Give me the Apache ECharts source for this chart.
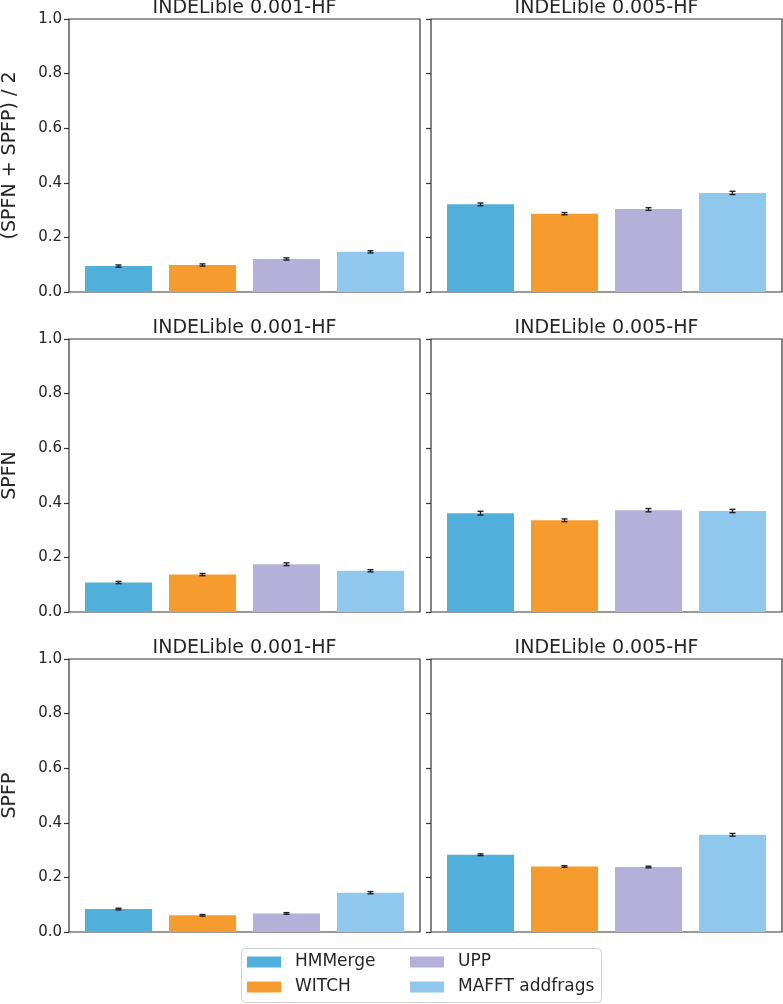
<!DOCTYPE html>
<html>
<head>
<meta charset="utf-8">
<script src="https://cdn.jsdelivr.net/npm/echarts@6/dist/echarts.min.js"></script>
<style>
html,body{margin:0;padding:0;background:#fff;}
#chart{width:783px;height:1004px;}
</style>
</head>
<body>
<div id="chart"></div>
<script>
// ---- data ----
var methods = ['HMMerge', 'WITCH', 'UPP', 'MAFFT addfrags'];
var datasets = ['INDELible 0.001-HF', 'INDELible 0.005-HF'];
var metrics = ['(SPFN + SPFP) / 2', 'SPFN', 'SPFP'];
var yTicks = [0, 0.2, 0.4, 0.6, 0.8, 1.0];

var avg_001 = [0.095, 0.099, 0.121, 0.147];
var avg_005 = [0.321, 0.287, 0.304, 0.363];
var spfn_001 = [0.108, 0.137, 0.175, 0.151];
var spfn_005 = [0.362, 0.336, 0.373, 0.370];
var spfp_001 = [0.084, 0.061, 0.068, 0.144];
var spfp_005 = [0.283, 0.240, 0.238, 0.356];

var avg_001_err = [0.004, 0.004, 0.004, 0.004];
var avg_005_err = [0.005, 0.004, 0.005, 0.006];
var spfn_001_err = [0.004, 0.004, 0.005, 0.004];
var spfn_005_err = [0.007, 0.005, 0.006, 0.006];
var spfp_001_err = [0.003, 0.003, 0.003, 0.004];
var spfp_005_err = [0.003, 0.003, 0.003, 0.005];

var colors = ['#51afdb', '#f69b2d', '#b4b0d9', '#8ec8ec'];

var panelValues = [[avg_001, avg_005], [spfn_001, spfn_005], [spfp_001, spfp_005]];
var panelErrs = [[avg_001_err, avg_005_err], [spfn_001_err, spfn_005_err], [spfp_001_err, spfp_005_err]];

// ---- layout ----
var FONT = 'DejaVu Sans';
var TEXT = '#262626';
var SPINE = '#333333';
var colLeft = [69, 431];
var rowTop = [19, 339, 659];
var W = 351, H = 273;
var BAR_W = 67, BAR_STEP = 84;

var grids = [], xAxes = [], yAxes = [], series = [], titles = [];
var idx = 0;
for (var r = 0; r < 3; r++) {
  for (var c = 0; c < 2; c++) {
    grids.push({left: colLeft[c], top: rowTop[r], width: W, height: H,
      show: true, borderColor: SPINE, borderWidth: 1.2, backgroundColor: 'transparent'});
    xAxes.push({type: 'category', gridIndex: idx, data: [''],
      axisLine: {show: false}, axisTick: {show: false}, axisLabel: {show: false}, splitLine: {show: false}});
    yAxes.push({type: 'value', gridIndex: idx, min: 0, max: 1, interval: 0.2,
      name: c === 0 ? metrics[r] : '', nameLocation: 'middle', nameGap: 49,
      nameTextStyle: {fontFamily: FONT, fontSize: 19, color: TEXT},
      axisLine: {show: false},
      axisTick: {show: true, length: 5, lineStyle: {color: SPINE, width: 1.2}},
      axisLabel: {show: c === 0, fontFamily: FONT, fontSize: 15, color: TEXT, margin: 7,
        formatter: function (v) { return v.toFixed(1); }},
      splitLine: {show: false}});
    titles.push({text: datasets[c], left: colLeft[c] + W / 2, top: rowTop[r] - 20,
      textAlign: 'center', padding: 0,
      textStyle: {fontFamily: FONT, fontSize: 19, fontWeight: 'normal', color: TEXT}});
    var vals = panelValues[r][c];
    var errs = panelErrs[r][c];
    for (var m = 0; m < methods.length; m++) {
      series.push({type: 'bar', name: methods[m], xAxisIndex: idx, yAxisIndex: idx,
        barWidth: BAR_W, barGap: ((BAR_STEP - BAR_W) / BAR_W * 100) + '%',
        itemStyle: {color: colors[m]}, data: [vals[m]]});
    }
    var edata = [];
    for (var m2 = 0; m2 < methods.length; m2++) edata.push([0, vals[m2], errs[m2], m2]);
    series.push({type: 'custom', xAxisIndex: idx, yAxisIndex: idx, z: 10,
      encode: {x: 0, y: 1}, data: edata,
      renderItem: function (params, api) {
        var v = api.value(1), e = api.value(2), i = api.value(3);
        var top = api.coord([0, v + e]);
        var bot = api.coord([0, v - e]);
        var cx = top[0] + (i - 1.5) * BAR_STEP;
        var cap = 3;
        var st = {stroke: '#222', lineWidth: 1.4};
        return {type: 'group', children: [
          {type: 'line', shape: {x1: cx, y1: top[1], x2: cx, y2: bot[1]}, style: st},
          {type: 'line', shape: {x1: cx - cap, y1: top[1], x2: cx + cap, y2: top[1]}, style: st},
          {type: 'line', shape: {x1: cx - cap, y1: bot[1], x2: cx + cap, y2: bot[1]}, style: st}
        ]};
      }});
    idx++;
  }
}

var legendCommon = {orient: 'vertical', padding: 0, height: 60, itemWidth: 34, itemHeight: 11, itemGap: 5, icon: 'rect',
  textStyle: {fontFamily: FONT, fontSize: 17, color: TEXT, lineHeight: 20, padding: [0, 0, 0, 9]},
  selectedMode: false};

var chart = echarts.init(document.getElementById('chart'));
chart.setOption({
  animation: false,
  backgroundColor: '#fff',
  title: titles,
  grid: grids,
  xAxis: xAxes,
  yAxis: yAxes,
  legend: [
    Object.assign({}, legendCommon, {left: 247, top: 952, data: [methods[0], methods[1]]}),
    Object.assign({}, legendCommon, {left: 410, top: 952, data: [methods[2], methods[3]]})
  ],
  graphic: [{type: 'rect', left: 241, top: 948, z: -1,
    shape: {width: 360, height: 54, r: 4},
    style: {fill: '#fff', stroke: '#d0d0d0', lineWidth: 1}}],
  series: series
});
</script>
</body>
</html>
